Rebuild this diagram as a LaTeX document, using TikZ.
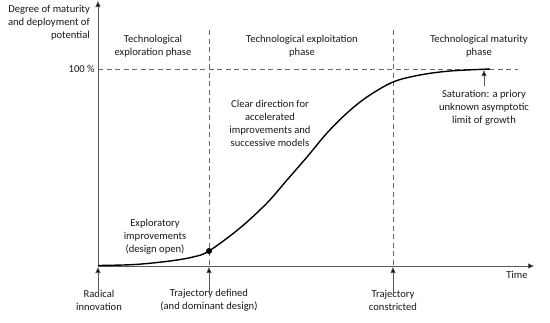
\documentclass[tikz,border=0pt]{standalone}
\usepackage{fontspec}
\setmainfont{Carlito}
\usetikzlibrary{arrows.meta}
\begin{document}
\begin{tikzpicture}[x=1pt,y=-1pt,
  every node/.style={font=\fontsize{10.6}{13}\selectfont, text=black!90, inner sep=0pt, align=center},
  axisline/.style={draw=black!65, line width=0.8pt},
  guide/.style={draw=black!60, line width=0.7pt, dash pattern=on 5pt off 3.5pt},
  tip/.style={-{Triangle[length=6pt,width=5pt,fill=black]}},
  curveline/.style={draw=black, line width=1.4pt},
  pointer/.style={draw=black!65, line width=0.8pt, -{Triangle[length=6pt,width=5pt,fill=black]}}]
\useasboundingbox (0,0) rectangle (550,322);
% coordinates
\coordinate (O) at (98,266);
\coordinate (ytop) at (98,1);
\coordinate (xend) at (534,266);
\coordinate (d1t) at (209,30);
\coordinate (d1b) at (209,266);
\coordinate (d2t) at (393,30);
\coordinate (d2b) at (393,266);
\coordinate (h0) at (98,69);
\coordinate (h1) at (518,69);
% guides
\draw[guide] (d1t) -- (d1b);
\draw[guide] (d2t) -- (d2b);
\draw[guide] (h0) -- (h1);
% axes
\draw[axisline, tip] (O) -- (ytop);
\draw[axisline, tip] (O) -- (xend);
% curve
\draw[curveline] plot[smooth, tension=0.55] coordinates {(98,265.5) (135,264.5) (170,261) (193,257) (209,251) (240,228) (267,203) (287,180) (307,157) (327,133) (347,113) (367,97) (393,82) (420,75) (450,71) (490,69)};
\node[circle, fill=black, minimum size=6pt] (dot) at (209,251) {};
% labels
\node[anchor=east, align=right] (ylab) at (90,23) {Degree of maturity\\and deployment of\\potential};
\node[anchor=east] (p100) at (95,69) {100 \%};
\node (ph1) at (153,46) {Technological\\exploration phase};
\node (ph2) at (302,46) {Technological exploitation\\phase};
\node (ph3) at (479,46) {Technological maturity\\phase};
\node (clear) at (270,123) {Clear direction for\\accelerated\\improvements and\\successive models};
\node (expl) at (155,237) {Exploratory\\improvements\\(design open)};
\node (sat) at (484,108) {Saturation: a priory\\unknown asymptotic\\limit of growth};
\node (time) at (517,275) {Time};
\node (rad) at (99,300) {Radical\\innovation};
\node (traj) at (209,300) {Trajectory defined\\(and dominant design)};
\node (con) at (393,300) {Trajectory\\constricted};
% pointers
\coordinate (satTip) at (484,70);
\coordinate (radTip) at (98,267);
\coordinate (trajTip) at (209,267);
\coordinate (conTip) at (393,267);
\draw[pointer] (sat.north -| satTip) ++(0,-4) -- (satTip);
\draw[pointer] ([yshift=-3pt]rad.north -| radTip) -- (radTip);
\draw[pointer] ([yshift=-3pt]traj.north -| trajTip) -- (trajTip);
\draw[pointer] ([yshift=-3pt]con.north -| conTip) -- (conTip);
\end{tikzpicture}
\end{document}
